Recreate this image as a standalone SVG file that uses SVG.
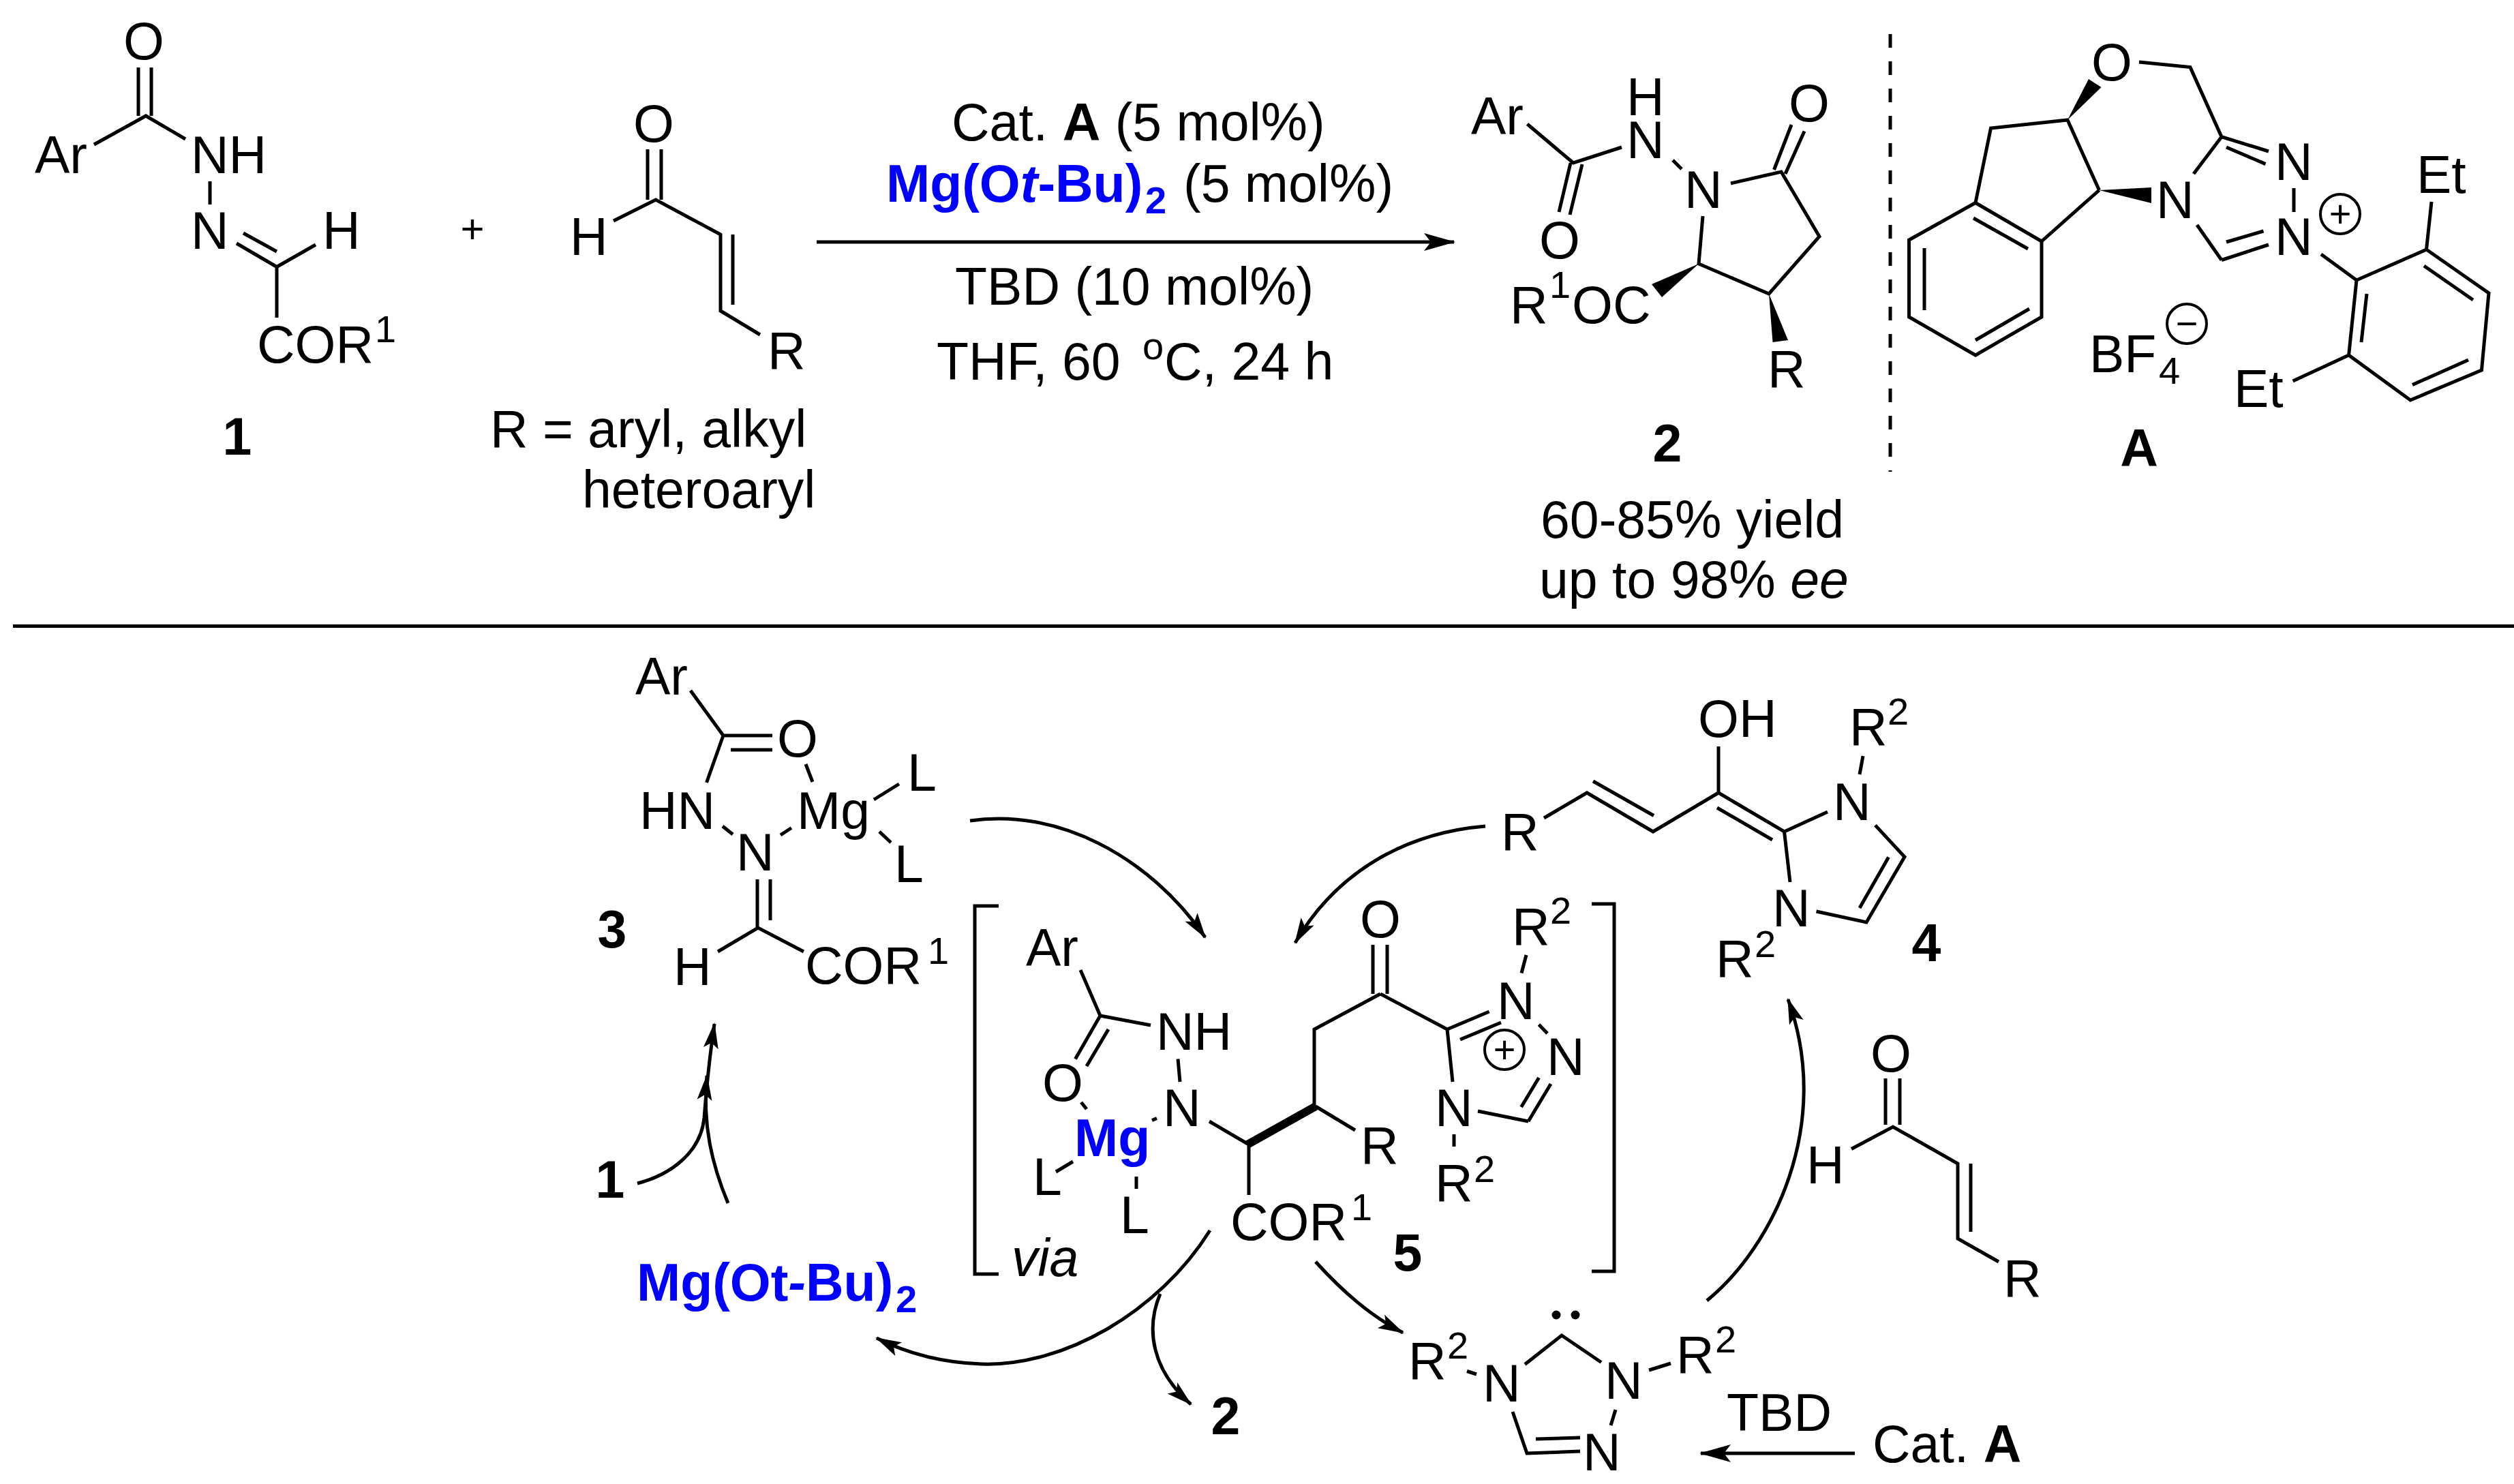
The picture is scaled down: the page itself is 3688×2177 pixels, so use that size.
<svg xmlns="http://www.w3.org/2000/svg" width="3688" height="2177" viewBox="0 0 3688 2177">
<style>
text{font-family:"Liberation Sans",Arial,sans-serif;font-size:77px;fill:#000}
.m{text-anchor:middle}
.b{font-weight:bold}
.i{font-style:italic}
.s{font-size:56px}
.blue{fill:#0000ff;font-weight:bold}
.bond{fill:none;stroke:#000;stroke-width:5;stroke-linecap:butt;stroke-linejoin:miter}
.w{fill:#000;stroke:none}
.c{fill:none;stroke:#000;stroke-width:4}
.arr{fill:none;stroke:#000;stroke-width:5;marker-end:url(#head)}
.crv{fill:none;stroke:#000;stroke-width:5;marker-end:url(#headS)}
</style>
<defs>
<marker id="head" markerUnits="userSpaceOnUse" markerWidth="46" markerHeight="26" viewBox="0 0 46 26" refX="44" refY="13" orient="auto" overflow="visible"><path d="M46,13 L0,0 L10,13 L0,26 Z" fill="#000"/></marker>
<marker id="headS" markerUnits="userSpaceOnUse" markerWidth="38" markerHeight="22" viewBox="0 0 38 22" refX="36" refY="11" orient="auto" overflow="visible"><path d="M38,11 L0,0 L8,11 L0,22 Z" fill="#000"/></marker>
</defs>
<rect width="3688" height="2177" fill="#fff"/>
<g id="connectors">
<path class="arr" d="M1198,355 L2133,355"/>
<path class="crv" d="M935,1736 C985,1723 1028,1690 1033,1640 C1036,1600 1041,1550 1048,1502"/>
<path class="crv" d="M1068,1765 C1045,1710 1030,1650 1037,1578"/>
<path class="crv" d="M1423,1204 C1550,1185 1685,1255 1768,1375"/>
<path class="crv" d="M1775,1805 C1700,1925 1560,2005 1440,2001 C1380,1999 1330,1985 1286,1963"/>
<path class="crv" d="M1702,1898 C1680,1950 1690,2010 1747,2060"/>
<path class="crv" d="M1930,1851 C1970,1895 2010,1930 2058,1955"/>
<path class="crv" d="M2179,1212 C2060,1222 1960,1280 1900,1383"/>
<path class="crv" d="M2504,1908 C2600,1830 2690,1650 2623,1466"/>
<path class="arr" d="M2721,2132 L2495,2132"/>
</g>
<g id="rules">
<line x1="19" y1="918.5" x2="3688" y2="918.5" stroke="#000" stroke-width="5"/>
<line x1="2773" y1="50" x2="2773" y2="692" stroke="#000" stroke-width="5" stroke-dasharray="20 20"/>
</g>
<g id="compound-1">
<path class="bond" d="M203,99V170M222,99V170M138,212L214,170L272,204M308,266V300M347,357L406,391.5M357,342L406,369M463,359L406,391.5V466"/>
<text class="m" x="211" y="87">O</text>
<text x="51" y="254">Ar</text>
<text x="280" y="254">NH</text>
<text x="280" y="365">N</text>
<text x="473" y="365">H</text>
<text x="377" y="532">COR<tspan class="s" x="550" y="502">1</tspan></text>
<text class="m b" x="348" y="667">1</text>
</g>
<g id="plus"><text class="m" style="font-size:60px" x="693" y="356">+</text></g>
<g id="aldehyde-top">
<path class="bond" d="M950,219V293M970,219V293M900,324L962,293L1057,344V456L1115,491M1075,344V447"/>
<text class="m" x="959" y="208">O</text>
<text x="836" y="374">H</text>
<text x="1126" y="541">R</text>
<text x="719" y="656">R = aryl, alkyl</text>
<text x="854" y="745">heteroaryl</text>
</g>
<g id="conditions">
<text x="1396" y="206">Cat. <tspan class="b">A</tspan> (5 mol%)</text>
<text x="1300" y="296"><tspan class="blue">Mg(O<tspan class="i">t</tspan>-Bu)</tspan><tspan class="blue s" x="1680" y="313">2</tspan><tspan x="1736" y="296">(5 mol%)</tspan></text>
<text x="1401" y="447">TBD (10 mol%)</text>
<text x="1374" y="557">THF, 60 <tspan class="s" x="1676" y="527">o</tspan><tspan x="1708" y="557">C, 24 h</tspan></text>
</g>
<g id="product-2">
<path class="bond" d="M2240.5,182L2308,239L2379,216M2287,311L2304,239M2303,315L2321,241M2454,235L2467,248M2539,269L2613,252L2669,347L2595,431L2492,387L2498,317M2602.5,249L2628,183M2619,255L2647,192.5"/>
<polygon class="w" points="2492,387 2423,417 2438,436"/>
<polygon class="w" points="2595,431 2600.5,502 2623,499"/>
<text x="2158" y="197">Ar</text>
<text class="m" x="2288" y="379">O</text>
<text x="2386" y="232">N</text>
<text x="2386" y="169">H</text>
<text x="2471" y="305">N</text>
<text class="m" x="2654" y="178">O</text>
<text x="2215" y="474">R<tspan class="s" x="2273" y="437">1</tspan><tspan x="2306" y="474">OC</tspan></text>
<text x="2593" y="568">R</text>
<text class="m b" x="2446" y="677">2</text>
<text x="2260" y="789">60-85% yield</text>
<text x="2258" y="877">up to 98% <tspan class="i">ee</tspan></text>
</g>
<g id="catalyst-A">
<path class="bond" d="M3138,91L3213,98.6L3259,200.7L3328,222M3266,216L3323.5,240.6M3365,276V311M3259,381.5L3328,359M3266,355L3320.5,339M3259,381.5L3223,330M3218,255L3259,200.7M3079.5,279L3033,176L2920.5,188L2898,297.5M3079.5,279L2995,354"/>
<path class="bond" d="M2898,297.5L2995,354V465L2898,521L2800.5,465V352ZM2895,320L2975,365M2823,364V455M2898,499L2977,453"/>
<polygon class="w" points="3079.5,279 3156,275 3156,298"/>
<polygon class="w" points="3033,176 3064,116 3082.5,128"/>
<path class="bond" d="M3405,373L3457,411L3559.5,366L3651,430L3640.5,543L3536,587L3445.6,521L3457,411M3472,431L3464,502M3556,390L3628,440M3621,528L3539,564.5M3559.5,366L3567,296M3445.6,521L3363.6,559"/>
<text class="m" x="3098" y="118">O</text>
<text x="3337" y="264">N</text>
<text x="3337" y="374">N</text>
<text x="3163" y="320">N</text>
<circle class="c" cx="3433" cy="314" r="29"/>
<text class="m s" x="3433" y="333">+</text>
<text x="3545" y="283">Et</text>
<text x="3277" y="597">Et</text>
<text x="3065" y="546">BF<tspan class="s" x="3167" y="563">4</tspan></text>
<circle class="c" cx="3208" cy="475" r="29"/>
<text class="m s" x="3208" y="494">−</text>
<text class="m b" x="3138" y="684">A</text>
</g>
<g id="complex-3">
<path class="bond" d="M1013,1013L1061,1079H1133M1072,1100H1133M1182,1121L1192,1147M1061,1079L1036.5,1148M1060,1212L1075,1224M1145,1225L1161,1214.5M1282,1173L1319,1150M1290,1220L1307,1236M1111,1290V1361M1130,1290V1350M1053,1396L1112,1361L1179,1396"/>
<text x="932" y="1019">Ar</text>
<text class="m" x="1170" y="1110">O</text>
<text x="938" y="1216">HN</text>
<text x="1080" y="1277">N</text>
<text x="1169" y="1216">Mg</text>
<text x="1331" y="1160">L</text>
<text x="1312" y="1294">L</text>
<text x="988" y="1445">H</text>
<text x="1181" y="1443">COR<tspan class="s" x="1361" y="1414">1</tspan></text>
<text class="m b" x="898" y="1390">3</text>
</g>
<g id="label-1b"><text class="m b" x="895" y="1757">1</text></g>
<g id="reagent-mg">
<text class="blue" x="934" y="1908">Mg(Ot<tspan class="i">-</tspan>Bu)<tspan class="s" x="1314" y="1925">2</tspan></text>
</g>
<g id="intermediate-5">
<path class="bond" d="M1465,1329H1430V1869H1465"/>
<path class="bond" d="M2335,1326H2368V1865H2335"/>
<text class="i" x="1484" y="1872">via</text>
<path class="bond" d="M1585,1423L1614,1490L1688,1504M1728,1553.5L1731,1587M1614,1490L1577.5,1553.5M1626,1510L1594,1564M1586,1617L1594,1627M1697,1640.5L1690,1643.5M1574,1704L1549,1719M1667,1726V1744M1774,1645L1832,1679V1753M1930,1623L1988,1658M1928,1623V1510L2025,1458M2014,1458V1386M2035,1458V1386M2025,1458L2123,1510L2184.6,1484M2142,1525L2202,1500M2239,1401L2232,1427.5M2257.5,1503L2270,1516M2242,1645L2275,1590M2231.6,1624L2257.5,1581M2168,1630L2242,1645M2123,1510L2131,1587M2133,1664V1682"/>
<line x1="1830" y1="1679" x2="1930" y2="1623" stroke="#000" stroke-width="12"/>
<text x="1505" y="1417">Ar</text>
<text x="1696" y="1540">NH</text>
<text x="1706" y="1652">N</text>
<text class="m" x="1559" y="1615">O</text>
<text class="blue" x="1576" y="1696">Mg</text>
<text x="1515" y="1753">L</text>
<text x="1643" y="1809">L</text>
<text x="1996" y="1707">R</text>
<text class="m" x="2025" y="1375">O</text>
<text x="2196" y="1495">N</text>
<text x="2218" y="1386">R<tspan class="s" x="2274" y="1355">2</tspan></text>
<text x="2269" y="1577">N</text>
<text x="2105" y="1652">N</text>
<circle class="c" cx="2207" cy="1540" r="29"/>
<text class="m s" x="2207" y="1559">+</text>
<text x="2105" y="1762">R<tspan class="s" x="2162" y="1734">2</tspan></text>
<text x="1805" y="1819">COR<tspan class="s" x="1982" y="1790">1</tspan></text>
<text class="m b" x="2065" y="1864">5</text>
</g>
<g id="label-2b"><text class="m b" x="1798" y="2104">2</text></g>
<g id="enol-4">
<path class="bond" d="M2521,1095V1163M2265,1200L2328,1163L2425,1220L2521,1163L2617.5,1220L2681,1191M2337,1146L2426,1196.5M2519,1185L2600,1232M2733,1109L2728,1136M2751,1210.6L2794,1257L2738,1353L2664.5,1337M2770.5,1257.5L2728,1332M2617.5,1220L2626,1294"/>
<text x="2491" y="1081">OH</text>
<text x="2202" y="1247">R</text>
<text x="2689" y="1203">N</text>
<text x="2713" y="1093">R<tspan class="s" x="2769" y="1063">2</tspan></text>
<text x="2600" y="1359">N</text>
<text x="2517" y="1433">R<tspan class="s" x="2574" y="1404">2</tspan></text>
<text class="m b" x="2826" y="1410">4</text>
</g>
<g id="aldehyde-bottom">
<path class="bond" d="M2766,1582V1650M2787,1582V1650M2716,1685.5L2777,1653L2872,1707V1817L2932,1851M2891,1707V1807"/>
<text class="m" x="2774" y="1572">O</text>
<text x="2650" y="1736">H</text>
<text x="2939" y="1902">R</text>
</g>
<g id="carbene">
<path class="bond" d="M2152,2011.5L2166,2016M2237,2001.5L2291,1959L2349,1998.5M2419,2010L2451,2000M2370,2068L2363,2091M2318,2129L2240,2132L2219,2071M2253,2111L2318,2109"/>
<circle cx="2283" cy="1929" r="6.5"/>
<circle cx="2311" cy="1929" r="6.5"/>
<text x="2066" y="2023">R<tspan class="s" x="2123" y="1993">2</tspan></text>
<text x="2175" y="2056">N</text>
<text x="2354" y="2052">N</text>
<text x="2459" y="2014">R<tspan class="s" x="2516" y="1984">2</tspan></text>
<text x="2322" y="2157">N</text>
</g>
<g id="cat-a-lower">
<text x="2533" y="2099">TBD</text>
<text x="2747" y="2145">Cat. <tspan class="b">A</tspan></text>
</g>
</svg>
